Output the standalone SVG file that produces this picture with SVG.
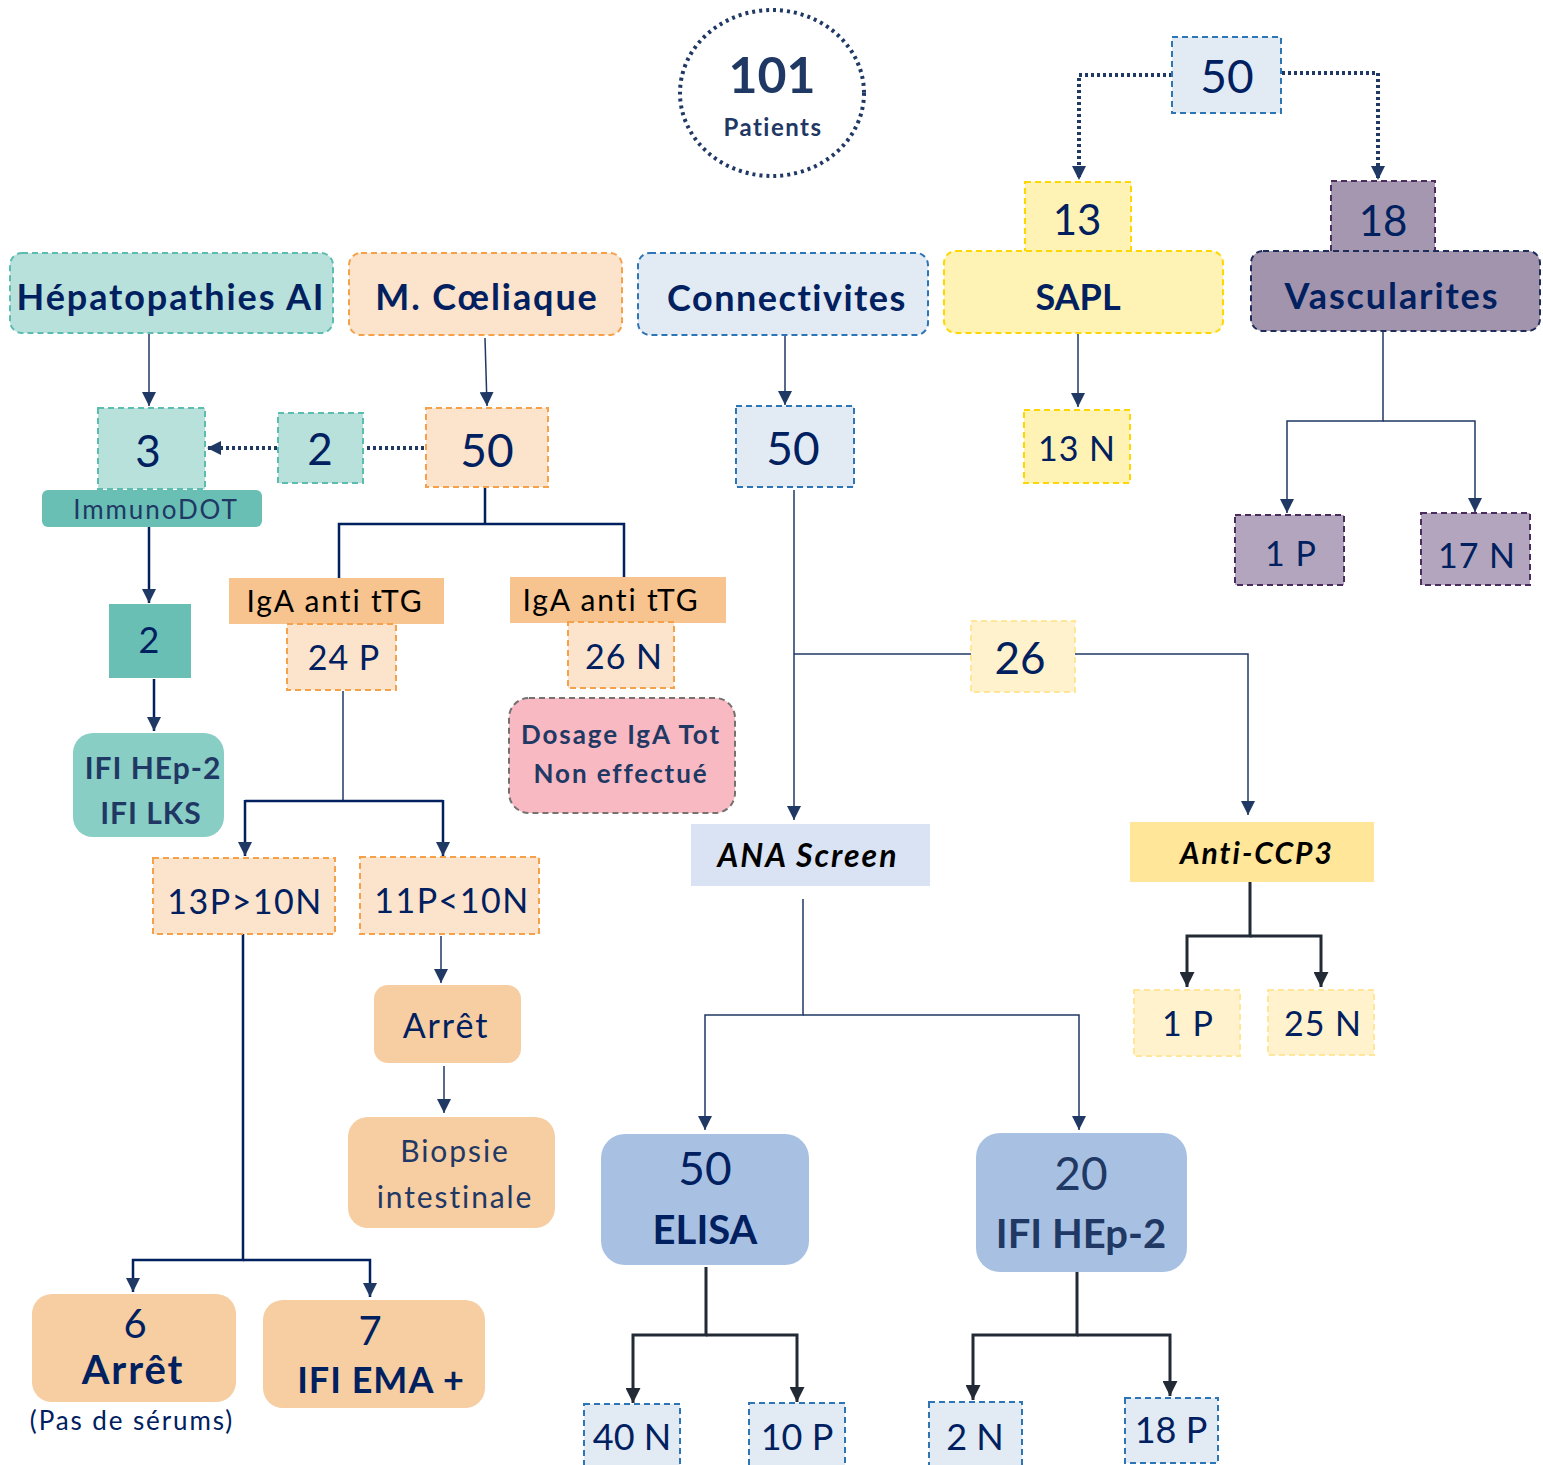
<svg xmlns="http://www.w3.org/2000/svg" width="1543" height="1465" viewBox="0 0 1543 1465">
<defs>
<style>
text{font-family:Lato,"Open Sans","Liberation Sans",sans-serif;fill:#002060;text-anchor:middle}
.b{font-weight:bold}
.bi{font-weight:bold;font-style:italic;fill:#000;letter-spacing:2px}
.blk{fill:#000}
.ls1{letter-spacing:1px}
.ls15{letter-spacing:1.5px}
.ls2{letter-spacing:1.9px}
.dash{stroke-width:2;stroke-dasharray:6 4}
.teal{fill:#b8e1dc;stroke:#5dbcb0}
.org{fill:#fbe3cc;stroke:#f4a14a}
.blu{fill:#e2eaf4;stroke:#2e75b6}
.yel{fill:#fef3b5;stroke:#ffd700}
.yel2{fill:#fff2cc;stroke:#ffe699}
.pur{fill:#a597b0;stroke:#4a2d5e}
.pur2{fill:#b3a5bd;stroke:#4a2d5e}
.ln{fill:none;stroke:#1f3864;stroke-width:1.5}
.lnb{fill:none;stroke:#002060;stroke-width:2.5}
.lnd{fill:none;stroke:#222a35;stroke-width:3}
.dot{fill:none;stroke:#1f3864;stroke-width:4;stroke-dasharray:3 3}
</style>
<marker id="a" viewBox="0 0 10 10" refX="10" refY="5" markerWidth="14" markerHeight="14" markerUnits="userSpaceOnUse" orient="auto"><path d="M0,0L10,5L0,10z" fill="#1f3864"/></marker>
<marker id="ad" viewBox="0 0 10 10" refX="10" refY="5" markerWidth="15" markerHeight="15" markerUnits="userSpaceOnUse" orient="auto"><path d="M0,0L10,5L0,10z" fill="#222a35"/></marker>
</defs>

<g id="connectors">
<path class="ln" d="M149,334V406" marker-end="url(#a)"/>
<path class="ln" d="M485,338L487,406" marker-end="url(#a)"/>
<path class="ln" d="M785,336V405" marker-end="url(#a)"/>
<path class="ln" d="M1078,334V407" marker-end="url(#a)"/>
<path class="ln" d="M1383,331V421H1287V513" marker-end="url(#a)"/>
<path class="ln" d="M1383,421H1475V512" marker-end="url(#a)"/>
<path class="dot" d="M1172,75H1079V180" marker-end="url(#a)"/>
<path class="dot" d="M1282,73H1378V180" marker-end="url(#a)"/>
<path class="dot" d="M277,448H207" marker-end="url(#a)"/>
<path class="dot" d="M424,448H366"/>
<path class="lnb" d="M149,527V603" marker-end="url(#a)"/>
<path class="lnb" d="M154,679V731" marker-end="url(#a)"/>
<path class="lnb" d="M485,487V524H339V578M485,524H624V577"/>
<path class="ln" d="M343,691V801"/>
<path class="lnb" d="M245,801H443M245,800V856" marker-end="url(#a)"/>
<path class="lnb" d="M443,800V856" marker-end="url(#a)"/>
<path class="ln" d="M441,936V983" marker-end="url(#a)"/>
<path class="ln" d="M444,1066V1113" marker-end="url(#a)"/>
<path class="lnb" d="M243,934V1260H133V1292" marker-end="url(#a)"/>
<path class="lnb" d="M243,1260H370V1297" marker-end="url(#a)"/>
<path class="ln" d="M794,490V820" marker-end="url(#a)"/>
<path class="ln" d="M794,654H971"/>
<path class="ln" d="M1075,654H1248V815" marker-end="url(#a)"/>
<path class="lnd" d="M1250,882V936H1187V987" marker-end="url(#ad)"/>
<path class="lnd" d="M1250,936H1321V987" marker-end="url(#ad)"/>
<path class="ln" d="M803,899V1015H705V1130" marker-end="url(#a)"/>
<path class="ln" d="M803,1015H1079V1130" marker-end="url(#a)"/>
<path class="lnd" d="M706,1267V1335H633V1403" marker-end="url(#ad)"/>
<path class="lnd" d="M706,1335H797V1402" marker-end="url(#ad)"/>
<path class="lnd" d="M1077,1271V1335H973V1400" marker-end="url(#ad)"/>
<path class="lnd" d="M1077,1335H1170V1396" marker-end="url(#ad)"/>
</g>

<g id="patients">
<ellipse cx="772" cy="93" rx="92" ry="83" fill="none" stroke="#1f3864" stroke-width="4" stroke-dasharray="3 4"/>
<text x="772" y="93" class="b" font-size="50" style="fill:#1f3864">101</text>
<text x="773" y="136" class="b ls15" font-size="24" style="fill:#1f3864">Patients</text>
</g>

<g id="n50top"><rect class="blu dash" x="1172" y="37" width="109" height="76"/><text x="1227" y="93" font-size="46">50</text></g>
<g id="n13"><rect class="yel dash" x="1025" y="182" width="106" height="70"/><text x="1077" y="235" font-size="42">13</text></g>
<g id="sapl"><rect class="yel dash" x="944" y="251" width="279" height="82" rx="12"/><text x="1078" y="310" class="b" font-size="36">SAPL</text></g>
<g id="n18"><rect class="pur dash" x="1331" y="181" width="104" height="71"/><text x="1383" y="236" font-size="42">18</text></g>
<g id="vasc"><rect class="dash" x="1251" y="251" width="289" height="80" rx="12" fill="#a394ad" stroke="#1f2d5a"/><text x="1392" y="309" class="b ls2" font-size="36">Vascularites</text></g>

<g id="hepato"><rect class="teal dash" x="10" y="253" width="323" height="80" rx="12"/><text x="171" y="310" class="b ls2" font-size="36">Hépatopathies AI</text></g>
<g id="coeliaque"><rect class="org dash" x="349" y="253" width="273" height="82" rx="12"/><text x="487" y="310" class="b ls2" font-size="36">M. Cœliaque</text></g>
<g id="connectivites"><rect class="blu dash" x="638" y="253" width="290" height="82" rx="12"/><text x="787" y="311" class="b ls15" font-size="36">Connectivites</text></g>

<g id="n3"><rect class="teal dash" x="98" y="408" width="107" height="81"/><text x="148" y="467" font-size="44">3</text></g>
<g id="immunodot"><rect x="42" y="490" width="220" height="37" rx="6" fill="#69bfb4"/><text x="156" y="519" class="ls2" font-size="26" style="fill:#1f3864">ImmunoDOT</text></g>
<g id="n2a"><rect class="teal dash" x="278" y="413" width="85" height="70"/><text x="320" y="465" font-size="44">2</text></g>
<g id="n50c"><rect class="org dash" x="426" y="408" width="122" height="79"/><text x="487" y="467" font-size="46">50</text></g>
<g id="n50b"><rect class="blu dash" x="736" y="406" width="118" height="81"/><text x="793" y="465" font-size="46">50</text></g>
<g id="n13n"><rect class="yel dash" x="1024" y="410" width="106" height="73"/><text x="1077" y="461" class="ls1" font-size="34">13 N</text></g>
<g id="v1p"><rect class="pur2 dash" x="1235" y="515" width="109" height="70"/><text x="1291" y="566" class="ls1" font-size="34">1 P</text></g>
<g id="v17n"><rect class="pur2 dash" x="1421" y="513" width="109" height="72"/><text x="1477" y="568" class="ls1" font-size="34">17 N</text></g>

<g id="n2b"><rect x="109" y="604" width="82" height="74" fill="#69bfb4"/><text x="149" y="653" font-size="36">2</text></g>
<g id="ifihep"><rect x="73" y="733" width="151" height="104" rx="20" fill="#89cec5"/><text x="153" y="779" class="b ls1" font-size="30" style="fill:#1f3864">IFI HEp-2</text><text x="151" y="824" class="b ls1" font-size="30" style="fill:#1f3864">IFI LKS</text></g>

<g id="iga1"><rect x="229" y="578" width="215" height="46" fill="#f7c38e"/><text x="335" y="612" class="blk ls2" font-size="30">IgA anti tTG</text></g>
<g id="p24"><rect class="org dash" x="287" y="624" width="109" height="66"/><text x="344" y="670" class="ls1" font-size="34">24 P</text></g>
<g id="iga2"><rect x="510" y="577" width="216" height="46" fill="#f7c38e"/><text x="611" y="611" class="blk ls2" font-size="30">IgA anti tTG</text></g>
<g id="n26n"><rect class="org dash" x="568" y="622" width="106" height="66"/><text x="624" y="669" class="ls1" font-size="34">26 N</text></g>
<g id="dosage"><rect class="dash" x="509" y="698" width="226" height="115" rx="20" fill="#f8b9c2" stroke="#767171"/><text x="621" y="744" class="b ls2" font-size="26" style="fill:#1f3864">Dosage IgA Tot</text><text x="621" y="783" class="b ls2" font-size="26" style="fill:#1f3864">Non effectué</text></g>

<g id="p13"><rect class="org dash" x="153" y="858" width="182" height="76"/><text x="245" y="914" class="ls15" font-size="34">13P&gt;10N</text></g>
<g id="p11"><rect class="org dash" x="360" y="857" width="179" height="77"/><text x="452" y="913" class="ls15" font-size="34">11P&lt;10N</text></g>
<g id="arret1"><rect x="374" y="985" width="147" height="78" rx="14" fill="#f7cda2"/><text x="446" y="1038" class="ls2" font-size="34">Arrêt</text></g>
<g id="biopsie"><rect x="348" y="1117" width="207" height="111" rx="20" fill="#f7cda2"/><text x="455" y="1162" class="ls2" font-size="30" style="fill:#1f3864">Biopsie</text><text x="455" y="1208" class="ls2" font-size="30" style="fill:#1f3864">intestinale</text></g>
<g id="arret6"><rect x="32" y="1294" width="204" height="108" rx="20" fill="#f7cda2"/><text x="135" y="1338" font-size="40">6</text><text x="133" y="1384" class="b ls2" font-size="40">Arrêt</text><text x="132" y="1430" class="ls2" font-size="26">(Pas de sérums)</text></g>
<g id="ema7"><rect x="263" y="1300" width="222" height="108" rx="20" fill="#f7cda2"/><text x="370" y="1345" font-size="40">7</text><text x="381" y="1393" class="b ls1" font-size="36">IFI EMA +</text></g>

<g id="n26"><rect class="yel2 dash" x="971" y="621" width="104" height="71"/><text x="1020" y="674" font-size="44">26</text></g>
<g id="ana"><rect x="691" y="824" width="239" height="62" fill="#dae3f3"/><text x="808" y="867" class="bi" font-size="32">ANA Screen</text></g>
<g id="ccp3"><rect x="1130" y="822" width="244" height="60" fill="#ffe699"/><text x="1257" y="864" class="bi" font-size="30">Anti-CCP3</text></g>
<g id="c1p"><rect class="yel2 dash" x="1134" y="990" width="106" height="66"/><text x="1188" y="1036" class="ls1" font-size="34">1 P</text></g>
<g id="c25n"><rect class="yel2 dash" x="1268" y="990" width="106" height="65"/><text x="1323" y="1036" class="ls1" font-size="34">25 N</text></g>

<g id="elisa"><rect x="601" y="1134" width="208" height="131" rx="24" fill="#a8c1e3"/><text x="705" y="1185" font-size="46">50</text><text x="705" y="1244" class="b" font-size="40">ELISA</text></g>
<g id="ifi20"><rect x="976" y="1133" width="211" height="139" rx="24" fill="#a8c1e3"/><text x="1081" y="1190" font-size="46" style="fill:#1f3864">20</text><text x="1081" y="1248" class="b" font-size="40" style="fill:#1f3864">IFI HEp-2</text></g>

<g id="n40n"><rect class="blu dash" x="584" y="1404" width="96" height="70"/><text x="632" y="1450" font-size="36">40 N</text></g>
<g id="n10p"><rect class="blu dash" x="749" y="1403" width="96" height="70"/><text x="797" y="1450" font-size="36">10 P</text></g>
<g id="n2n"><rect class="blu dash" x="929" y="1402" width="93" height="70"/><text x="975" y="1450" font-size="36">2 N</text></g>
<g id="n18p"><rect class="blu dash" x="1125" y="1398" width="93" height="65"/><text x="1171" y="1443" font-size="36">18 P</text></g>
</svg>
